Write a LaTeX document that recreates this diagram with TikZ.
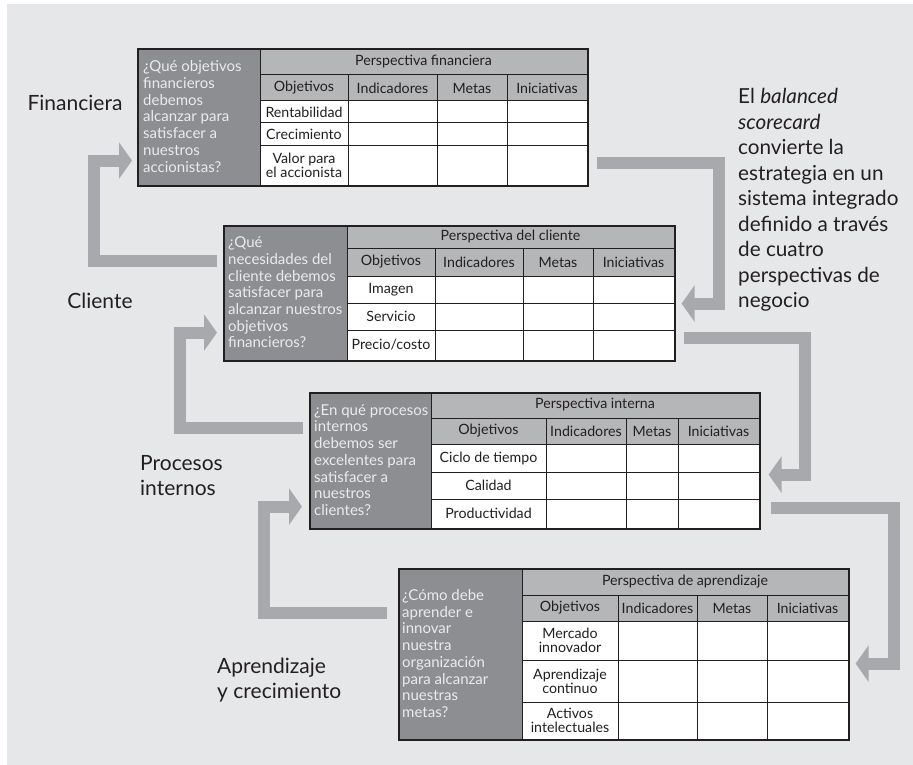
\documentclass[tikz,border=0pt]{standalone}
\usepackage{fontspec}
\setmainfont{Lato}
\usetikzlibrary{arrows.meta, positioning, calc}

\definecolor{fondo}{HTML}{E6E7E8}
\definecolor{pregunta}{HTML}{8C8E91}
\definecolor{cabecera}{HTML}{B5B6B8}
\definecolor{flechagris}{HTML}{A7A9AC}
\definecolor{linea}{HTML}{231F20}

\begin{document}
\begin{tikzpicture}[x=1pt, y=-1pt,
  marco/.style={draw=linea, line width=1.6pt, anchor=north west, inner sep=0pt},
  rejilla/.style={draw=linea, line width=1pt},
  celda/.style={text=linea, font=\fontsize{14.2}{14}\selectfont, align=center, inner sep=0pt},
  preg/.style={text=white!92!black, font=\fontsize{15}{16.7}\selectfont, align=left, anchor=west, inner sep=0pt},
  etiqueta/.style={text=linea, font=\fontsize{21}{25}\selectfont, align=left, inner sep=0pt},
  flecha/.style={draw=flechagris, line width=12pt, -{Triangle[length=13pt, width=36pt]}}]
\useasboundingbox (0,0) rectangle (913,765);
\fill[fondo] (7,4) rectangle (913,765);

% Perspectiva financiera
\fill[pregunta] (137,48) rectangle (260,185);
\fill[cabecera] (260,48) rectangle (587,101);
\fill[white] (260,101) rectangle (587,185);
\draw[rejilla] (260,48) -- (260,185) (260,75) -- (587,75) (260,101) -- (587,101)
  (260,123) -- (587,123) (260,146) -- (587,146)
  (348,75) -- (348,185) (437,75) -- (437,185) (507,75) -- (507,185);
\node[marco, minimum width=450, minimum height=137] (fin) at (137,48) {};
\node[preg] (fin-p) at (143,116.5) {¿Qué objetivos\\financieros\\debemos\\alcanzar para\\satisfacer a\\nuestros\\accionistas?};
\node[celda] (fin-t) at (423.5,61.5) {Perspectiva financiera};
\foreach \x/\t [count=\i] in {304/Objetivos, 392.5/Indicadores, 472/Metas, 547/Iniciativas}
  \node[celda] (fin-c\i) at (\x,88) {\t};
\node[celda] (fin-r1) at (304,112) {Rentabilidad};
\node[celda] (fin-r2) at (304,134.5) {Crecimiento};
\node[celda] (fin-r3) at (304,165.5) {Valor para\\el accionista};

% Perspectiva del cliente
\fill[pregunta] (223,225) rectangle (347,360);
\fill[cabecera] (347,225) rectangle (674,276);
\fill[white] (347,276) rectangle (674,360);
\draw[rejilla] (347,225) -- (347,360) (347,248) -- (674,248) (347,276) -- (674,276)
  (347,303) -- (674,303) (347,330) -- (674,330)
  (435,248) -- (435,360) (523,248) -- (523,360) (593,248) -- (593,360);
\node[marco, minimum width=451, minimum height=135] (cli) at (223,225) {};
\node[preg] (cli-p) at (228,292.5) {¿Qué\\necesidades del\\cliente debemos\\satisfacer para\\alcanzar nuestros\\objetivos\\financieros?};
\node[celda] (cli-t) at (510.5,236.5) {Perspectiva del cliente};
\foreach \x/\t [count=\i] in {391/Objetivos, 479/Indicadores, 558/Metas, 633.5/Iniciativas}
  \node[celda] (cli-c\i) at (\x,262) {\t};
\node[celda] (cli-r1) at (391,289.5) {Imagen};
\node[celda] (cli-r2) at (391,316.5) {Servicio};
\node[celda] (cli-r3) at (391,345) {Precio/costo};

% Perspectiva interna
\fill[pregunta] (309,392) rectangle (431,528);
\fill[cabecera] (431,392) rectangle (759,444);
\fill[white] (431,444) rectangle (759,528);
\draw[rejilla] (431,392) -- (431,528) (431,418) -- (759,418) (431,444) -- (759,444)
  (431,472) -- (759,472) (431,499) -- (759,499)
  (546,418) -- (546,528) (626,418) -- (626,528) (678,418) -- (678,528);
\node[marco, minimum width=450, minimum height=136] (int) at (309,392) {};
\node[preg] (int-p) at (314,460) {¿En qué procesos\\internos\\debemos ser\\excelentes para\\satisfacer a\\nuestros\\clientes?};
\node[celda] (int-t) at (595,405) {Perspectiva interna};
\foreach \x/\t [count=\i] in {488.5/Objetivos, 586/Indicadores, 652/Metas, 718.5/Iniciativas}
  \node[celda] (int-c\i) at (\x,431) {\t};
\node[celda] (int-r1) at (488.5,458) {Ciclo de tiempo};
\node[celda] (int-r2) at (488.5,485.5) {Calidad};
\node[celda] (int-r3) at (488.5,513.5) {Productividad};

% Perspectiva de aprendizaje
\fill[pregunta] (398,568) rectangle (522,739);
\fill[cabecera] (522,568) rectangle (848,621);
\fill[white] (522,621) rectangle (848,739);
\draw[rejilla] (522,568) -- (522,739) (522,595) -- (848,595) (522,621) -- (848,621)
  (522,660) -- (848,660) (522,702) -- (848,702)
  (618,595) -- (618,739) (697,595) -- (697,739) (767,595) -- (767,739);
\node[marco, minimum width=450, minimum height=171] (apr) at (398,568) {};
\node[preg] (apr-p) at (402,653.5) {¿Cómo debe\\aprender e\\innovar\\nuestra\\organización\\para alcanzar\\nuestras\\metas?};
\node[celda] (apr-t) at (685,581.5) {Perspectiva de aprendizaje};
\foreach \x/\t [count=\i] in {570/Objetivos, 657.5/Indicadores, 732/Metas, 807.5/Iniciativas}
  \node[celda] (apr-c\i) at (\x,608) {\t};
\node[celda] (apr-r1) at (570,640.5) {Mercado\\innovador};
\node[celda] (apr-r2) at (570,681) {Aprendizaje\\continuo};
\node[celda] (apr-r3) at (570,720.5) {Activos\\intelectuales};

% Etiquetas
\node[etiqueta] (l-fin) at (75,103) {Financiera};
\node[etiqueta] (l-cli) at (100,301) {Cliente};
\node[etiqueta, anchor=west] (l-int) at (140,476) {Procesos\\internos};
\node[etiqueta, anchor=west] (l-apr) at (217,680) {Aprendizaje\\y crecimiento};
\node[etiqueta, anchor=west, font=\fontsize{20.7}{25.5}\selectfont] (nota) at (738,200)
  {El \textit{balanced}\\\textit{scorecard}\\convierte la\\estrategia en un\\sistema integrado\\definido a través\\de cuatro\\perspectivas de\\negocio};

% Flechas de la izquierda (hacia arriba)
\draw[flecha] ($(cli.north west)+(-6,36)$) -- ++(-123,0) |- ($(fin.south west)+(-5,-26)$);
\draw[flecha] ($(int.north west)+(-6,36)$) -- ++(-123,0) |- ($(cli.south west)+(-6,-29)$);
\draw[flecha] ($(apr.north west)+(-11,45)$) -- ++(-123,0) |- ($(int.south west)+(-7,-23)$);

% Flechas de la derecha (hacia abajo)
\draw[flecha] ($(fin.south east)+(8,-24)$) -- ++(122,0) |- ($(cli.south east)+(6,-58)$);
\draw[flecha] ($(cli.south east)+(8,-24)$) -- ++(121,0) |- ($(int.south east)+(8,-55)$);
\draw[flecha] ($(int.south east)+(10,-22)$) -- ++(123,0) |- ($(apr.south east)+(6,-77)$);
\end{tikzpicture}
\end{document}
